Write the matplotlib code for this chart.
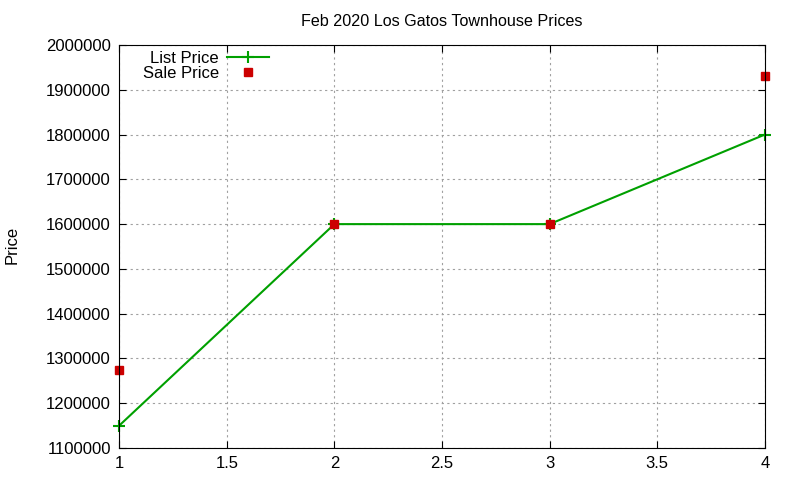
import matplotlib
matplotlib.use("Agg")
import matplotlib.pyplot as plt

plt.rcParams['font.family'] = ['Liberation Sans', 'DejaVu Sans']

weeks = [1, 2, 3, 4]
list_price = [1150000, 1600000, 1600000, 1800000]
sale_price = [1275000, 1600000, 1600000, 1930000]

fig = plt.figure(figsize=(8, 4.8), dpi=100)
ax = fig.add_axes([0.149, 0.0667, 0.807, 0.8395])

ax.plot(weeks, list_price, color='#00a000', linewidth=1.5, marker='+',
        markersize=9, markeredgewidth=1.5, label='List Price', clip_on=False)
ax.plot(weeks, sale_price, linestyle='none', marker='s', color='#cc0000',
        markersize=6, label='Sale Price', clip_on=False)

ax.set_xlim(1, 4)
ax.set_ylim(1100000, 2000000)
ax.set_xticks([1, 1.5, 2, 2.5, 3, 3.5, 4])
ax.set_xticklabels(['1', '1.5', '2', '2.5', '3', '3.5', '4'])
ax.set_yticks(range(1100000, 2000001, 100000))
ax.ticklabel_format(axis='y', style='plain', useOffset=False)
ax.tick_params(direction='in', length=5, labelsize=12, top=True, right=True, pad=6)
ax.grid(True, color='#a0a0a0', linestyle=(0, (2, 3)), linewidth=0.8)

ax.set_title('Feb 2020 Los Gatos Townhouse Prices', fontsize=11.6, pad=14)
fig.text(12 / 800, 1 - 245 / 480, 'Price', rotation=90, fontsize=12,
         ha='center', va='center')

ax.legend(loc='upper left', bbox_to_anchor=(143 / 800, 1 - 51 / 480),
          bbox_transform=fig.transFigure, frameon=False,
          markerfirst=False, fontsize=12, handlelength=2.5,
          handletextpad=0.5, labelspacing=0.0, borderpad=0, borderaxespad=0)

fig.savefig('out.png', dpi=100)
